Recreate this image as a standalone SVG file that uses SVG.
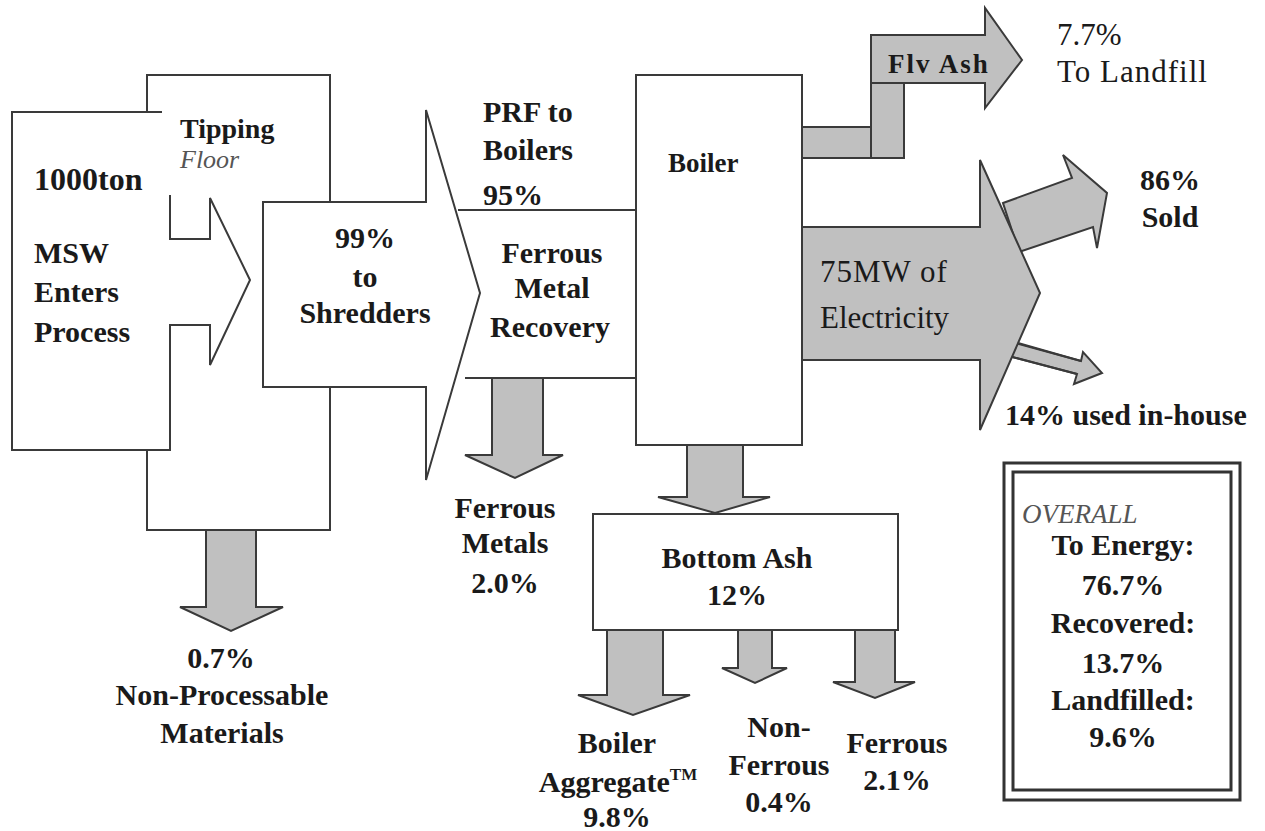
<svg xmlns="http://www.w3.org/2000/svg" width="1265" height="831" viewBox="0 0 1265 831">
<style>
.w{fill:#fff;stroke:#3a3a3a;stroke-width:2;stroke-linejoin:miter}
.g{fill:#c0c0c0;stroke:#3a3a3a;stroke-width:2;stroke-linejoin:miter}
.ln{fill:none;stroke:#3a3a3a;stroke-width:2}
text{font-family:"Liberation Serif","Times New Roman",serif;font-size:30px;fill:#1a1a1a}
.b{font-weight:bold}
.c{text-anchor:middle}
.r{font-size:31px}
.it{font-style:italic;fill:#555;font-weight:normal}
</style>
<rect width="1265" height="831" fill="#fff"/>

<g id="tipping-floor">
<rect class="w" x="147" y="75" width="183" height="455"/>
</g>

<g id="msw-input">
<path class="w" d="M162,112 L12,112 L12,450 L170,450 L170,325 L210,325 L210,365 L250,280 L210,198 L210,239 L170,239 L170,195"/>
<text class="b" x="34" y="190" style="font-size:32px">1000ton</text>
<text class="b" x="34" y="263">MSW</text>
<text class="b" x="34" y="302">Enters</text>
<text class="b" x="34" y="342">Process</text>
</g>

<g id="tipping-label">
<text class="b" x="180" y="138" style="font-size:28px">Tipping</text>
<text class="it" x="180" y="168" style="font-size:26px">Floor</text>
</g>

<g id="shredders">
<path class="w" d="M263,202 L426,202 L426,110 L480,293 L426,480 L426,387 L263,387 Z"/>
<text class="b c" x="365" y="248">99%</text>
<text class="b c" x="365" y="287">to</text>
<text class="b c" x="365" y="323">Shredders</text>
</g>

<g id="ferrous-recovery">
<text class="b" x="483" y="122">PRF to</text>
<text class="b" x="483" y="160">Boilers</text>
<text class="b" x="483" y="205">95%</text>
<text class="b c" x="552" y="263">Ferrous</text>
<text class="b c" x="552" y="298">Metal</text>
<text class="b c" x="550" y="337">Recovery</text>
</g>

<g id="boiler">
<rect class="w" x="636" y="75" width="166" height="370"/>
<text class="b" x="668" y="172" style="font-size:27px">Boiler</text>
</g>

<g id="fly-ash">
<rect class="g" x="802" y="127" width="69" height="31"/>
<rect class="g" x="871" y="83" width="33" height="75"/>
<path class="g" d="M871,35 L985,35 L985,8 L1022,60 L985,108 L985,83 L871,83 Z"/>
<text class="b" x="888" y="73" style="font-size:27px;letter-spacing:2px">Flv Ash</text>
<text class="r" x="1057" y="45">7.7%</text>
<text class="r" x="1057" y="82" style="letter-spacing:1px">To Landfill</text>
</g>

<g id="electricity">
<path class="g" d="M1003,203 L1072,178 L1063,155 L1107,193 L1097,248 L1093,227 L1019,252 Z"/>
<path class="g" d="M1008,341 L1081,361 L1083,352 L1102,373 L1074,384 L1077,374 L1005,355 Z"/>
<path class="g" d="M802,227 L980,227 L980,160 L1040,293 L980,430 L980,360 L802,360 Z"/>
<path class="g" d="M1018,343 L1081,361 M1012,357 L1077,374" style="fill:none"/>
<text class="r" x="820" y="282" style="letter-spacing:1px">75MW of</text>
<text class="r" x="820" y="328">Electricity</text>
<text class="b c" x="1170" y="190">86%</text>
<text class="b c" x="1170" y="227">Sold</text>
<text class="b" x="1005" y="425">14% used in-house</text>
</g>

<g id="bottom-ash">
<rect class="w" x="593" y="514" width="305" height="116"/>
<text class="b c" x="737" y="568">Bottom Ash</text>
<text class="b c" x="737" y="605">12%</text>
</g>

<g id="connectors">
<line class="ln" x1="458" y1="210" x2="636" y2="210"/>
<line class="ln" x1="465" y1="378" x2="636" y2="378"/>
<path class="g" d="M206,530 L256,530 L256,607 L283,607 L231,631 L180,607 L206,607 Z"/>
<path class="g" d="M492,378 L543,378 L543,455 L563,455 L515,478 L465,455 L492,455 Z"/>
<path class="g" d="M687,445 L743,445 L743,497 L770,497 L715,513 L658,497 L687,497 Z"/>
<path class="g" d="M607,630 L663,630 L663,695 L690,695 L633,715 L578,695 L607,695 Z"/>
<path class="g" d="M738,630 L772,630 L772,668 L787,668 L755,683 L722,668 L738,668 Z"/>
<path class="g" d="M855,630 L895,630 L895,682 L915,682 L875,698 L833,682 L855,682 Z"/>
</g>

<g id="outputs">
<text class="b c" x="221" y="668">0.7%</text>
<text class="b c" x="222" y="705">Non-Processable</text>
<text class="b c" x="222" y="743">Materials</text>
<text class="b c" x="505" y="518">Ferrous</text>
<text class="b c" x="505" y="553">Metals</text>
<text class="b c" x="505" y="593">2.0%</text>
<text class="b c" x="617" y="753">Boiler</text>
<text class="b c" x="618" y="792">Aggregate<tspan style="font-size:17px" dy="-12">TM</tspan></text>
<text class="b c" x="617" y="827">9.8%</text>
<text class="b c" x="779" y="737">Non-</text>
<text class="b c" x="779" y="775">Ferrous</text>
<text class="b c" x="779" y="812">0.4%</text>
<text class="b c" x="897" y="753">Ferrous</text>
<text class="b c" x="897" y="790">2.1%</text>
</g>

<g id="overall">
<rect x="1004" y="463" width="236" height="337" fill="#fff" stroke="#333" stroke-width="3"/>
<rect x="1013" y="472" width="218" height="318" fill="none" stroke="#333" stroke-width="3"/>
<text class="it" x="1022" y="523" style="font-size:27px">OVERALL</text>
<text class="b c" x="1123" y="555">To Energy:</text>
<text class="b c" x="1123" y="595">76.7%</text>
<text class="b c" x="1123" y="633">Recovered:</text>
<text class="b c" x="1123" y="673">13.7%</text>
<text class="b c" x="1123" y="710">Landfilled:</text>
<text class="b c" x="1123" y="747">9.6%</text>
</g>
</svg>
